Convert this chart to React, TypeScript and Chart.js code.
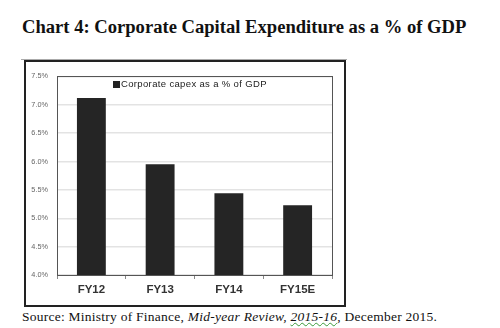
import React, { useEffect, useRef } from "react";
import { Chart, registerables } from "chart.js";

Chart.register(...registerables);

const categories = ["FY12", "FY13", "FY14", "FY15E"];
const capexPct = [7.12, 5.95, 5.44, 5.23];
const seriesLabel = "Corporate capex as a % of GDP";
const yMin = 4.0;
const yMax = 7.5;
const yStep = 0.5;

const plotBorder = {
  id: "plotBorder",
  afterDraw(chart: any) {
    const { ctx, chartArea } = chart;
    ctx.save();
    ctx.strokeStyle = "#555";
    ctx.lineWidth = 1;
    ctx.strokeRect(
      Math.round(chartArea.left) + 0.5,
      Math.round(chartArea.top) + 0.5,
      Math.round(chartArea.right - chartArea.left),
      Math.round(chartArea.bottom - chartArea.top)
    );
    ctx.restore();
  },
};

export default function App() {
  const ref = useRef<HTMLCanvasElement | null>(null);

  useEffect(() => {
    if (!ref.current) return;
    const chart = new Chart(ref.current, {
      type: "bar",
      data: {
        labels: categories,
        datasets: [
          {
            label: seriesLabel,
            data: capexPct,
            backgroundColor: "#252525",
            borderColor: "#111",
            borderWidth: 0,
            barPercentage: 0.42,
            categoryPercentage: 1,
          },
        ],
      },
      options: {
        animation: false,
        responsive: false,
        maintainAspectRatio: false,
        layout: { padding: { top: 7, right: 10, left: 0, bottom: 0 } },
        plugins: {
          legend: { display: false },
          tooltip: { enabled: false },
        },
        scales: {
          x: {
            grid: {
              drawOnChartArea: false,
              drawTicks: true,
              tickLength: 4,
              color: "#888",
              offset: true,
            },
            border: { display: true, color: "#777" },
            ticks: {
              color: "#333",
              font: { family: "Liberation Sans, Arial", size: 11.5, weight: "bold" },
              padding: 4,
            },
            afterFit(scale: any) {
              scale.height = 30;
            },
          },
          y: {
            min: yMin,
            max: yMax,
            grid: {
              color: "#e3e3e3",
              lineWidth: 1.5,
              drawTicks: false,
            },
            border: { display: true, color: "#555" },
            ticks: {
              stepSize: yStep,
              color: "#666",
              padding: 9,
              font: { family: "Liberation Sans, Arial", size: 7.3 },
              callback: (v: any) => Number(v).toFixed(1) + "%",
            },
            afterFit(scale: any) {
              scale.width = 30;
            },
          },
        },
      },
      plugins: [plotBorder],
    });
    return () => chart.destroy();
  }, []);

  return (
    <div
      style={{
        position: "absolute",
        left: 0,
        top: 0,
        width: 500,
        height: 328,
        background: "#fff",
        overflow: "hidden",
      }}
    >
      <div
        style={{
          position: "absolute",
          left: 22,
          top: 16,
          fontFamily: "Liberation Serif, Times New Roman, serif",
          fontWeight: "bold",
          fontSize: 18.6,
          color: "#111",
          whiteSpace: "nowrap",
          lineHeight: "22px",
        }}
      >
        Chart 4: Corporate Capital Expenditure as a % of GDP
      </div>
      <div
        style={{
          position: "absolute",
          left: 21,
          top: 59,
          width: 326,
          height: 1,
          background: "#aaa",
        }}
      />
      <div
        style={{
          position: "absolute",
          left: 24,
          top: 60,
          width: 318,
          height: 243,
          border: "2px solid #222",
          background: "#fff",
        }}
      />
      <canvas
        ref={ref}
        width={315}
        height={242}
        style={{ position: "absolute", left: 27, top: 63, width: 315, height: 242 }}
      />
      <div
        style={{
          position: "absolute",
          left: 113,
          top: 78,
          display: "flex",
          alignItems: "center",
          fontFamily: "Liberation Sans, Arial, sans-serif",
          fontSize: 9.5,
          letterSpacing: 0.35,
          color: "#222",
          whiteSpace: "nowrap",
          lineHeight: "12px",
        }}
      >
        <span
          style={{
            display: "inline-block",
            width: 7,
            height: 7,
            background: "#222",
            marginRight: 1,
          }}
        />
        {seriesLabel}
      </div>
      <div
        style={{
          position: "absolute",
          left: 22,
          top: 309,
          fontFamily: "Liberation Serif, Times New Roman, serif",
          fontSize: 13.5,
          letterSpacing: 0.25,
          color: "#111",
          whiteSpace: "nowrap",
          lineHeight: "16px",
        }}
      >
        Source: Ministry of Finance,{" "}
        <i>
          Mid-year Review,{" "}
          <span
            style={{
              textDecoration: "underline wavy #3a9a3a",
              textDecorationThickness: 1,
            }}
          >
            2015-16
          </span>
        </i>
        , December 2015.
      </div>
    </div>
  );
}
